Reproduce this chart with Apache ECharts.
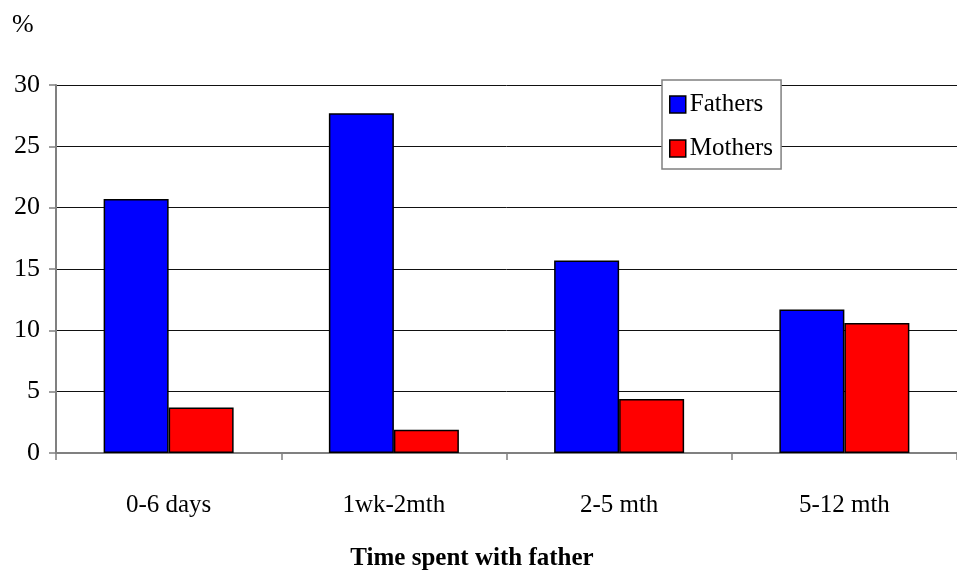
<!DOCTYPE html>
<html>
<head>
<meta charset="utf-8">
<script src="https://cdn.jsdelivr.net/npm/echarts@6/dist/echarts.min.js"></script>
<style>
html,body{margin:0;padding:0;background:#fff;}
#chart{width:957px;height:574px;}
</style>
</head>
<body>
<div id="chart"></div>
<script>
var categories = ['0-6 days', '1wk-2mth', '2-5 mth', '5-12 mth'];
var fathers = [20.7, 27.7, 15.7, 11.7];
var mothers = [3.7, 1.9, 4.4, 10.6];
var seriesNames = ['Fathers', 'Mothers'];
var yUnit = '%';
var xTitle = 'Time spent with father';

var FONT = 'Liberation Serif';
var chart = echarts.init(document.getElementById('chart'));
chart.setOption({
  animation: false,
  backgroundColor: '#ffffff',
  textStyle: { fontFamily: FONT, color: '#000' },
  grid: { left: 56, right: -7, top: 85, bottom: 121, containLabel: false },
  legend: {
    orient: 'vertical',
    left: 662, top: 80,
    padding: [12, 8, 8, 7],
    itemGap: 19,
    itemWidth: 16, itemHeight: 17,
    icon: 'rect',
    itemStyle: { borderColor: '#000', borderWidth: 1.5 },
    backgroundColor: '#ffffff',
    borderColor: '#808080', borderWidth: 1.5,
    textStyle: { fontFamily: FONT, fontSize: 25, color: '#000', padding: [0, 0, 0, -1] },
    data: seriesNames
  },
  xAxis: {
    type: 'category',
    data: categories,
    axisLine: { lineStyle: { color: '#808080', width: 2 } },
    axisTick: { show: true, length: 7, lineStyle: { color: '#808080', width: 1.5 } },
    axisLabel: { fontFamily: FONT, fontSize: 25, color: '#000', margin: 40 }
  },
  yAxis: {
    type: 'value',
    min: 0, max: 30, interval: 5,
    axisLine: { show: true, lineStyle: { color: '#808080', width: 2 } },
    axisTick: { show: true, length: 7, lineStyle: { color: '#808080', width: 1.5 } },
    splitLine: { lineStyle: { color: '#111', width: 1 } },
    axisLabel: { fontFamily: FONT, fontSize: 26, color: '#000', margin: 16 }
  },
  graphic: [
    { type: 'text', left: 12, top: 12, style: { text: yUnit, fontFamily: FONT, fontSize: 26, fill: '#000' } },
    { type: 'text', x: 472, y: 559, style: { text: xTitle, fontFamily: FONT, fontSize: 25, fontWeight: 'bold', fill: '#000', textAlign: 'center', textVerticalAlign: 'middle' } }
  ],
  series: [
    { name: seriesNames[0], type: 'bar', data: fathers, barWidth: 65, barGap: '0%',
      itemStyle: { color: '#0000ff', borderColor: '#000', borderWidth: 1.5 } },
    { name: seriesNames[1], type: 'bar', data: mothers, barWidth: 65, barGap: '0%',
      itemStyle: { color: '#ff0000', borderColor: '#000', borderWidth: 1.5 } }
  ]
});
</script>
</body>
</html>
